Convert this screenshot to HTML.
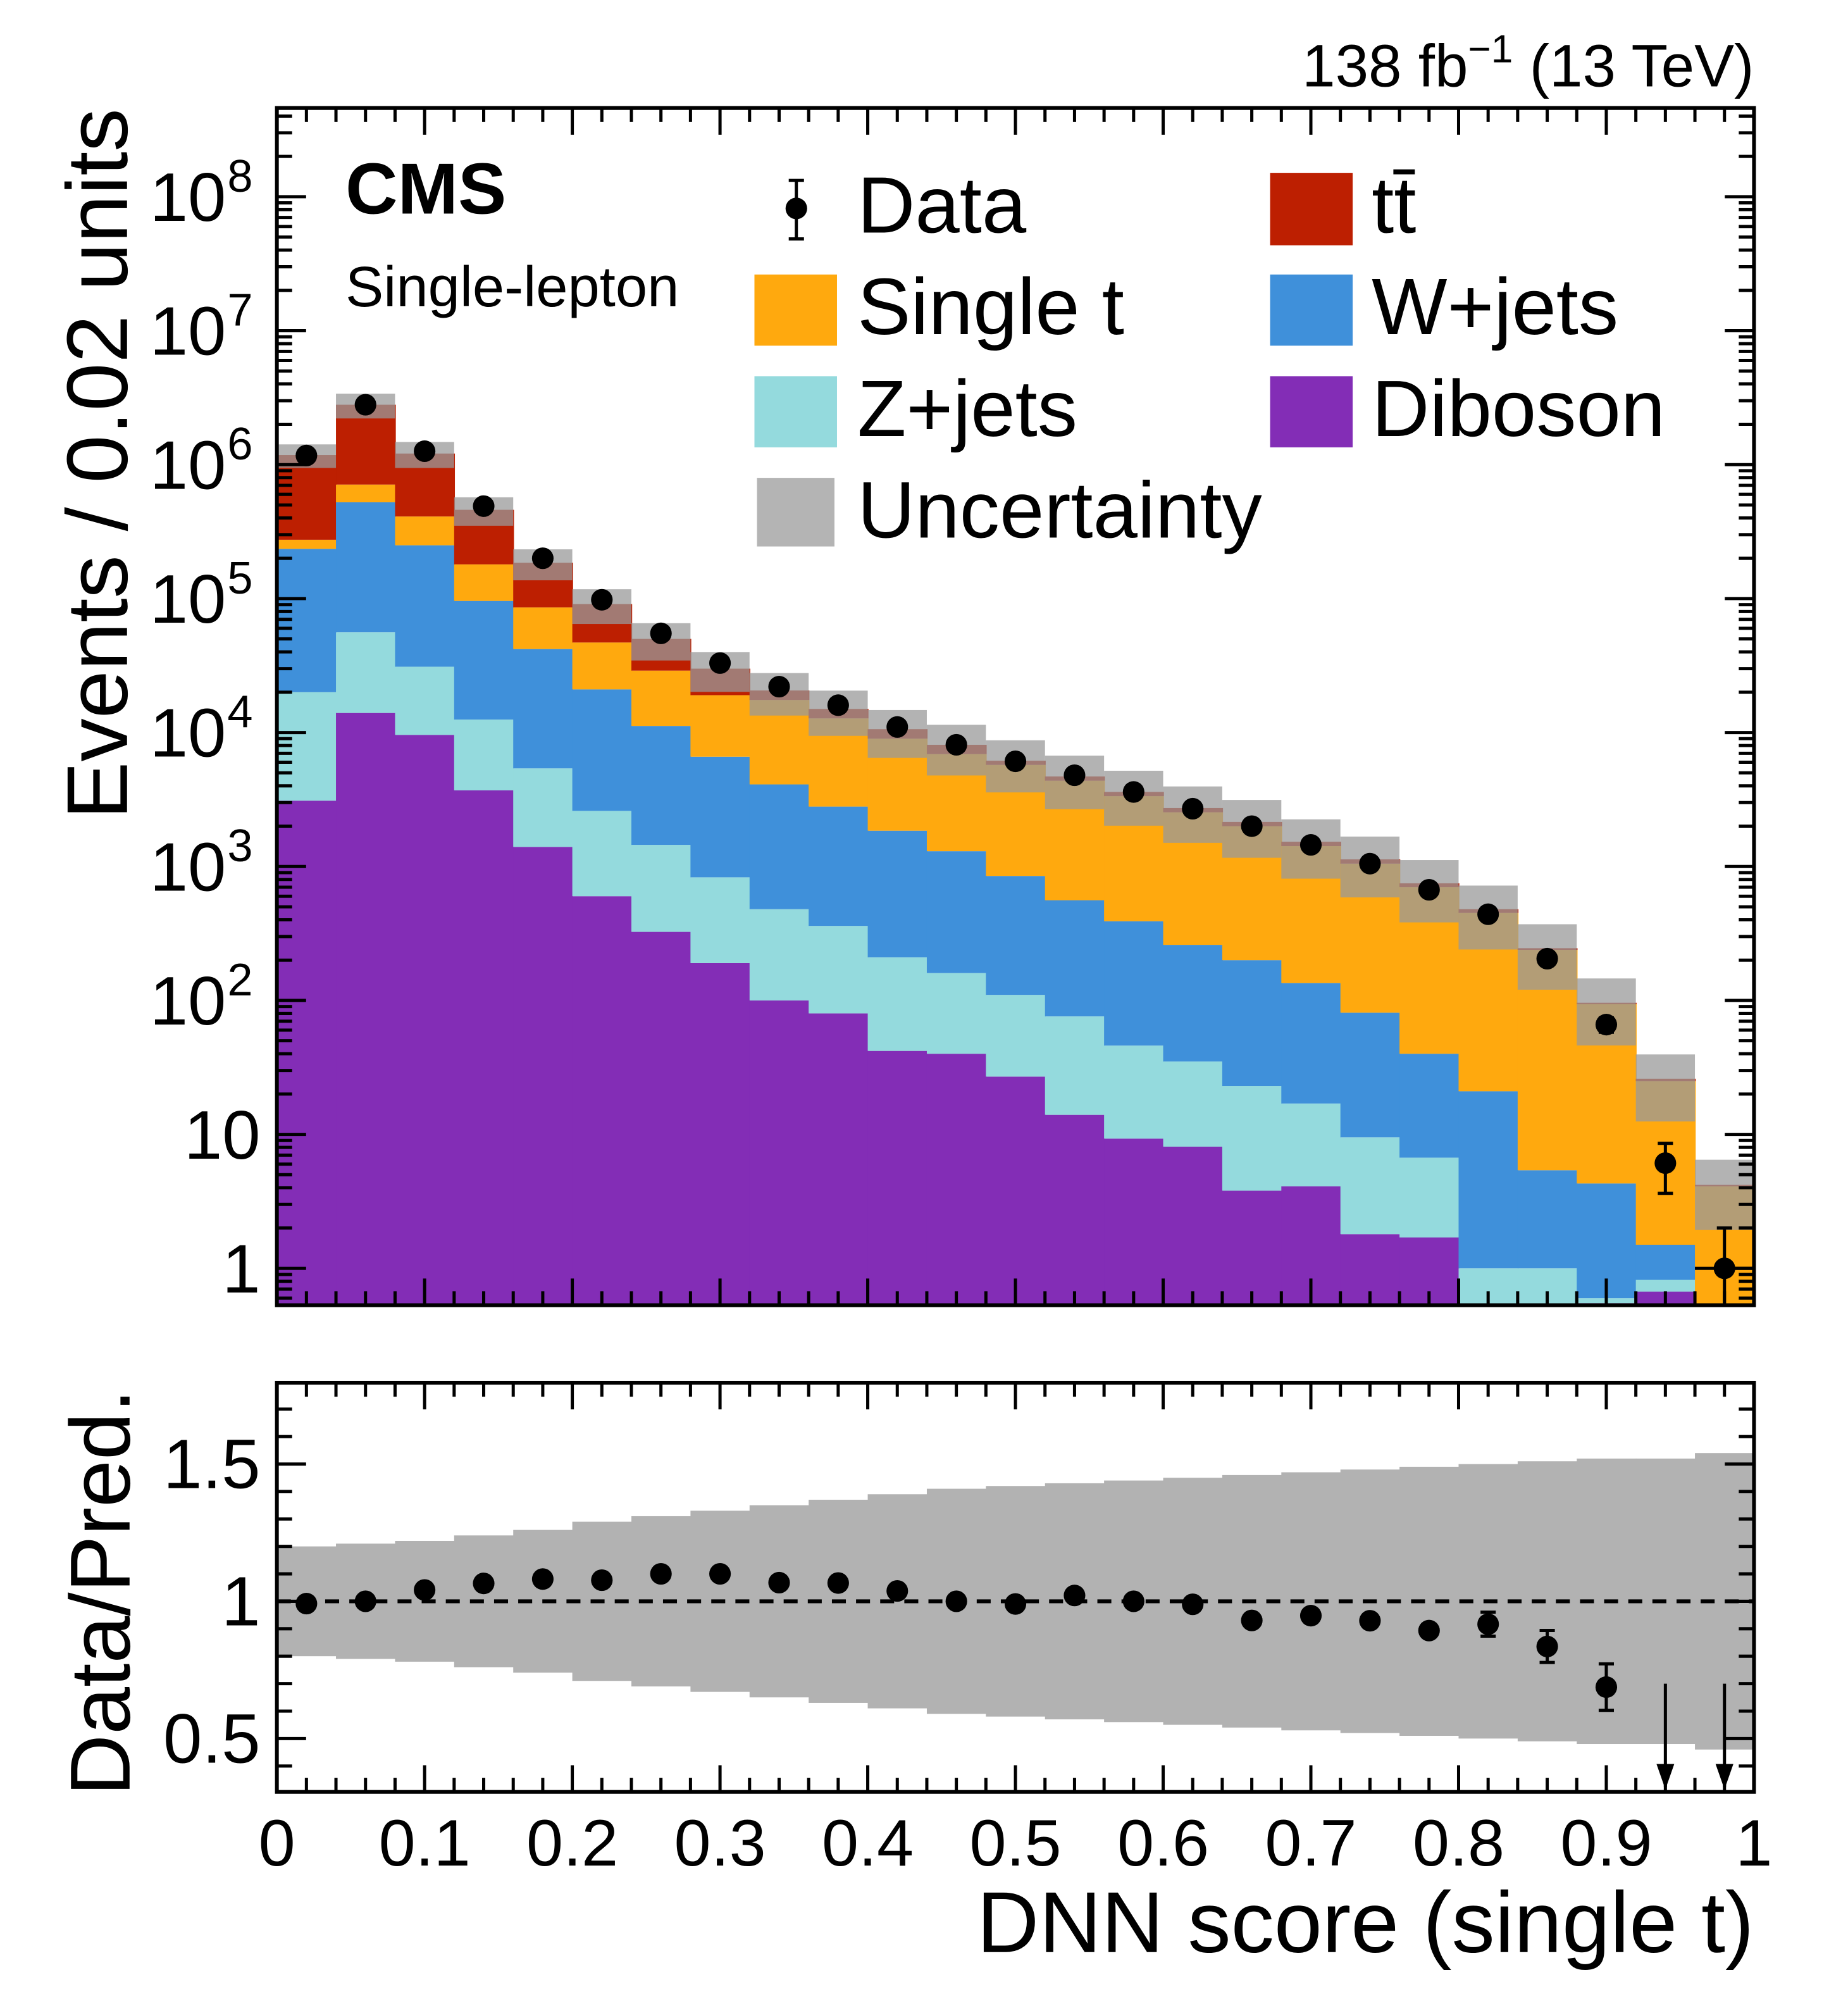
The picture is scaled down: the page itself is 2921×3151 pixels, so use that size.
<!DOCTYPE html>
<html><head><meta charset="utf-8"><style>
html,body{margin:0;padding:0;background:#fff}
svg{display:block}
text{font-family:"Liberation Sans",Arial,sans-serif;fill:#000}
</style></head><body>
<svg id="chart" xmlns="http://www.w3.org/2000/svg" width="2921" height="3151" viewBox="0 0 1455 1569" preserveAspectRatio="none">
<g id="main"></g>
<g id="ratio"></g>
<g id="labels">
<text x="1381" y="68" font-size="47" text-anchor="end">138 fb<tspan font-size="31" dy="-19">−1</tspan><tspan dy="19"> (13 TeV)</tspan></text>
<text x="272" y="168" font-size="57" font-weight="bold">CMS</text>
<text x="272" y="241" font-size="45">Single-lepton</text>
<text transform="translate(100,365) rotate(-90)" font-size="68" text-anchor="middle">Events / 0.02 units</text>
<text transform="translate(102,1253) rotate(-90)" font-size="67" text-anchor="middle">Data/Pred.</text>
<text x="1381" y="1536" font-size="68" text-anchor="end">DNN score (single t)</text>
</g>
<g id="legend">
<g><line x1="627" y1="142" x2="627" y2="188" stroke="#000" stroke-width="2.5"/><line x1="621" y1="142" x2="633" y2="142" stroke="#000" stroke-width="2.5"/><line x1="621" y1="188" x2="633" y2="188" stroke="#000" stroke-width="2.5"/><circle cx="627" cy="164" r="8.5"/><text x="675" y="183" font-size="63">Data</text></g>
<g><rect x="594" y="216" width="65" height="56" fill="#ffa90e"/><text x="675" y="263" font-size="63">Single t</text></g>
<g><rect x="594" y="296" width="65" height="56" fill="#94dadd"/><text x="675" y="343" font-size="63">Z+jets</text></g>
<g><rect x="596" y="376" width="61" height="54" fill="#b4b4b4"/><text x="675" y="423" font-size="63">Uncertainty</text></g>
<g><rect x="1000" y="136" width="65" height="57" fill="#bd1f01"/><text x="1080" y="183" font-size="63">tt̄</text></g>
<g><rect x="1000" y="216" width="65" height="56" fill="#3f90da"/><text x="1080" y="263" font-size="63">W+jets</text></g>
<g><rect x="1000" y="296" width="65" height="56" fill="#832db6"/><text x="1080" y="343" font-size="63">Diboson</text></g>
</g>
</svg>
<script>
const binEdgesLow = [0,0.04,0.08,0.12,0.16,0.2,0.24,0.28,0.32,0.36,0.4,0.44,0.48,0.52,0.56,0.6,0.64,0.68,0.72,0.76,0.8,0.84,0.88,0.92,0.96];
const diboson = [3100,14000,9600,3700,1400,600,325,190,100,80,42,40,27,14,9.3,8.1,3.8,4.1,1.8,1.7,0.3,0.3,0.55,0.67,0.3];
const zjets = [16900,42000,21400,8800,4000,2000,1125,640,380,280,168,120,83,62,36.7,26.9,19.2,12.9,7.7,5.0,0.7,0.7,0.05,0.15,0];
const wjets = [215000,469000,219000,83500,36600,18400,9750,5770,3620,2440,1640,1140,740,484,344,225,177,118,71.5,33.3,20,4.4,3.7,0.68,0];
const singleT = [40000,185000,160000,84000,44000,26000,17800,12400,13400,9950,7150,5600,4880,3810,2960,2280,1800,1285,969,660,429,233,89.7,23.5,3.8];
const ttbar = [905000,2090000,800000,280000,99000,44000,21000,11000,3100,2250,1600,1200,430,330,250,190,150,110,80,50,30,7,2,1,0.1];
const dataCounts = [1.17e6,2.8e6,1.26e6,4.9e5,2.0e5,9.8e4,5.5e4,3.3e4,2.2e4,1.6e4,1.1e4,8100,6100,4800,3600,2700,2000,1450,1050,670,440,205,66,6.1,1.0];
const relUnc = [0.20,0.21,0.22,0.24,0.26,0.29,0.31,0.33,0.35,0.37,0.39,0.41,0.42,0.43,0.44,0.45,0.46,0.47,0.48,0.49,0.50,0.51,0.52,0.52,0.54];
const xTickLabels = ["0","0.1","0.2","0.3","0.4","0.5","0.6","0.7","0.8","0.9","1"];
const yDecades = [0,1,2,3,4,5,6,7,8];
const ratioTickValues = [0.5,1,1.5];
const ratioTickLabels = ["0.5","1","1.5"];

const NS="http://www.w3.org/2000/svg";
const X0=218,X1=1381,MT=85,MB=1027,RT=1088,RB=1410,BW=0.04;
const xs=v=>X0+v*(X1-X0);
const ym=v=>998-105.4*Math.log10(v);
const yr=v=>1260-216*(v-1);
function mk(tag,attrs,parent){const e=document.createElementNS(NS,tag);for(const k in attrs)e.setAttribute(k,attrs[k]);parent.appendChild(e);return e;}
const main=document.getElementById('main'),ratio=document.getElementById('ratio');
const defs=mk('defs',{},document.getElementById('chart'));
const cp=mk('clipPath',{id:'cm'},defs);mk('rect',{x:X0,y:MT,width:X1-X0,height:MB-MT},cp);
const cr=mk('clipPath',{id:'cr'},defs);mk('rect',{x:X0,y:RT,width:X1-X0,height:RB-RT},cr);
const gm=mk('g',{'clip-path':'url(#cm)'},main);


const procs=[[diboson,'#832db6','diboson'],[zjets,'#94dadd','z-jets'],[wjets,'#3f90da','w-jets'],[singleT,'#ffa90e','single-t'],[ttbar,'#bd1f01','ttbar']];
const totals=[];
binEdgesLow.forEach((lo,i)=>{
  let cum=0;
  const xa=xs(lo),xb=xs(lo+BW);
  procs.forEach(([arr,col,nm])=>{
    const bot=cum; cum+=arr[i];
    if(arr[i]<=0)return;
    const yb=bot>0?Math.min(ym(bot),MB+5):MB+5, yt=ym(cum);
    if(yt>=yb)return;
    const r=mk('rect',{x:xa,y:yt,width:xb-xa+0.6,height:yb-yt,fill:col},gm);
    
    
  });
  totals.push(cum);
});
binEdgesLow.forEach((lo,i)=>{
  const t=totals[i],u=relUnc[i];
  const yt=ym(t*(1+u)),yb=Math.min(ym(Math.max(t*(1-u),0.01)),MB+5);
  const r=mk('rect',{x:xs(lo),y:yt,width:xs(lo+BW)-xs(lo),height:yb-yt,fill:'#9a9a9a','fill-opacity':0.75},gm);
  
  
  const rr=mk('rect',{x:xs(lo),y:yr(1+u),width:xs(lo+BW)-xs(lo)+0.5,height:yr(1-u)-yr(1+u),fill:'#b2b2b2'},ratio);
  
  
});
binEdgesLow.forEach((lo,i)=>{
  const n=dataCounts[i],xc=xs(lo+BW/2),e=Math.sqrt(n);
  const g=mk('g',{'clip-path':'url(#cm)'},main);
  
  
  const y1=ym(n+e),y2=n-e>0?ym(n-e):MB+5;
  mk('line',{x1:xc,x2:xc,y1:y1,y2:y2,stroke:'#000','stroke-width':2.5},g);
  mk('line',{x1:xc-6,x2:xc+6,y1:y1,y2:y1,stroke:'#000','stroke-width':2.5},g);
  if(n-e>0)mk('line',{x1:xc-6,x2:xc+6,y1:y2,y2:y2,stroke:'#000','stroke-width':2.5},g);
  if(n<3)mk('line',{x1:xs(lo),x2:xs(lo+BW),y1:ym(n),y2:ym(n),stroke:'#000','stroke-width':2.5},g);
  mk('circle',{cx:xc,cy:ym(n),r:8.5,fill:'#000'},g);
});
const dl=mk('line',{x1:X0,x2:X1,y1:yr(1),y2:yr(1),stroke:'#000','stroke-width':3,'stroke-dasharray':'11,8'},ratio);


binEdgesLow.forEach((lo,i)=>{
  const t=totals[i],n=dataCounts[i],r=n/t,e=Math.sqrt(n)/t,xc=xs(lo+BW/2);
  const g=mk('g',{'clip-path':'url(#cr)'},ratio);
  
  
  if(r<0.3){
    mk('line',{x1:xc,x2:xc,y1:yr(0.7),y2:RB-4,stroke:'#000','stroke-width':2.5},g);
    mk('path',{d:`M${xc-7} ${RB-22} L${xc+7} ${RB-22} L${xc} ${RB-2} Z`,fill:'#000'},g);
  }else{
    if(e*216>8){mk('line',{x1:xc,x2:xc,y1:yr(r+e),y2:yr(r-e),stroke:'#000','stroke-width':2.5},g);
      mk('line',{x1:xc-6,x2:xc+6,y1:yr(r+e),y2:yr(r+e),stroke:'#000','stroke-width':2.5},g);
      mk('line',{x1:xc-6,x2:xc+6,y1:yr(r-e),y2:yr(r-e),stroke:'#000','stroke-width':2.5},g);}
    mk('circle',{cx:xc,cy:yr(r),r:8.5,fill:'#000'},g);
  }
});
function frame(parent,top,bot,name){
  const f=mk('rect',{x:X0,y:top,width:X1-X0,height:bot-top,fill:'none',stroke:'#000','stroke-width':3},parent);
  
  
  for(let k=0;k<=50;k++){
    const x=xs(k*0.02),L=(k%5===0)?21:11;
    mk('line',{x1:x,x2:x,y1:top,y2:top+L,stroke:'#000','stroke-width':2.5},parent);
    mk('line',{x1:x,x2:x,y1:bot,y2:bot-L,stroke:'#000','stroke-width':2.5},parent);
  }
}
frame(main,MT,MB,'main-frame');frame(ratio,RT,RB,'ratio-frame');
for(let d=-1;d<=8;d++){
  for(let m=1;m<=9;m++){
    const v=m*Math.pow(10,d),y=ym(v);
    if(y<MT||y>MB)continue;
    const L=m===1?23:12;
    mk('line',{x1:X0,x2:X0+L,y1:y,y2:y,stroke:'#000','stroke-width':2.5},main);
    mk('line',{x1:X1,x2:X1-L,y1:y,y2:y,stroke:'#000','stroke-width':2.5},main);
  }
}
yDecades.forEach(d=>{
  const y=ym(Math.pow(10,d));
  const t=mk('text',{x:d>=2?178:205,y:y+19,'font-size':54,'text-anchor':'end'},main);
  
  
  if(d===0)t.textContent='1';
  else if(d===1)t.textContent='10';
  else{t.textContent='10';const s=mk('tspan',{'font-size':36,dy:-23,x:179,'text-anchor':'start'},t);s.textContent=String(d);}
});
for(let k=3;k<=18;k++){
  const v=k/10,y=yr(v);
  if(y<RT||y>RB)continue;
  const L=(k%5===0)?23:12;
  mk('line',{x1:X0,x2:X0+L,y1:y,y2:y,stroke:'#000','stroke-width':2.5},ratio);
  mk('line',{x1:X1,x2:X1-L,y1:y,y2:y,stroke:'#000','stroke-width':2.5},ratio);
}
ratioTickValues.forEach((v,i)=>{
  const t=mk('text',{x:205,y:yr(v)+19,'font-size':55,'text-anchor':'end'},ratio);
  
  
  t.textContent=ratioTickLabels[i];
});
xTickLabels.forEach((s,i)=>{
  const t=mk('text',{x:xs(i/10),y:1468,'font-size':52,'text-anchor':'middle'},ratio);
  
  
  t.textContent=s;
});
</script>
</body></html>
